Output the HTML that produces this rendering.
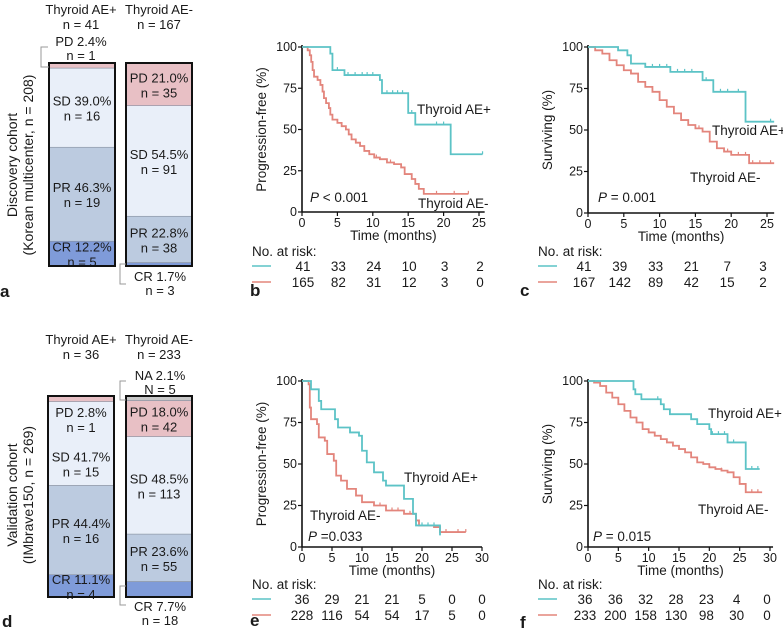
<!DOCTYPE html>
<html><head><meta charset="utf-8"><style>
html,body{margin:0;padding:0;background:#fff;}
svg{display:block;font-family:"Liberation Sans",Arial,sans-serif;}
</style></head><body>
<svg id="fig" width="783" height="633" viewBox="0 0 783 633" xmlns="http://www.w3.org/2000/svg"></svg>
<script>
// ---------- Response bar data (percent, n) from bottom: CR, PR, SD, PD, NA ----------
const respCategories = ["CR","PR","SD","PD","NA"];
const aPlusPct = [12.2,46.3,39.0,2.4,0];   const aPlusN = [5,19,16,1,0];
const aMinusPct = [1.7,22.8,54.5,21.0,0]; const aMinusN = [3,38,91,35,0];
const dPlusPct = [11.1,44.4,41.7,2.8,0];   const dPlusN = [4,16,15,1,0];
const dMinusPct = [7.7,23.6,48.5,18.0,2.1]; const dMinusN = [18,55,113,42,5];

// ---------- KM curves: [time, survival%] step points ----------
const bPlus = [[0,100],[4,96],[4.3,86],[6,83],[11,80],[11.3,72],[15,60],[16,53],[21,35],[25.5,35]];
const bMinus = [[0,100],[0.8,98],[1.1,95],[1.3,91],[1.5,86],[1.7,82],[2.2,80],[2.6,77],[2.9,73],[3.1,69],[3.4,66],[3.8,63],[4.0,59],[4.3,56],[5,54],[5.6,52],[6.2,50],[6.6,47],[7.0,44],[7.6,42],[8.2,40],[8.8,37],[9.5,35],[10.2,33],[11,32],[12,30],[13,29],[14,27],[14.5,23],[15.5,20],[16,17],[16.5,14],[17.2,11],[23.5,11]];
const bPlusCens = [5,6.5,7.5,8.5,9.2,10,12,12.8,13.5,14.2,15.5,19,20,25.5];
const bMinusCens = [10.5,12.5,14,19,21.5,23.5];
const cPlus = [[0,100],[4.2,98],[5.5,95],[6,90],[8,88],[11.5,85],[16,80],[17.5,73],[22,55],[26,55]];
const cMinus = [[0,100],[1,98],[2,96],[3,92],[4,89],[5,86],[6,84],[7,79],[8,76],[9,73],[10,68],[11,64],[12,60],[13,56],[14,53],[15,51],[16,49],[17,43],[18,39],[19,37],[20,35],[22.5,30],[26,30]];
const cPlusCens = [9,10,11,12.5,13.5,14.5,16.5,18.5,19.5,21,25.5];
const cMinusCens = [15.5,18,19.5,21,22,23,24,25.5];
const ePlus = [[0,100],[1.5,95],[2.8,88],[3.2,83],[5.5,77],[6,72],[8,69],[9.5,67],[10,58],[10.8,51],[12,45],[13.5,40],[14,37],[17,29],[18.5,20],[19,13],[23,7],[23,7]];
const eMinus = [[0,100],[1.1,98],[1.3,84],[1.5,77],[2.5,74],[2.8,66],[3.8,64],[4.2,56],[5.3,52],[5.7,43],[6.5,40],[7.5,35],[9,31],[10,27],[12,25],[14,22],[17,20],[19,16],[19.5,13],[22,12],[23,9],[27.3,9]];
const ePlusCens = [8,20,21,22];
const eMinusCens = [13,15,16,18,24,26,27.3];
const fPlus = [[0,100],[7.5,95],[7.8,92],[8.8,89],[12,86],[12.5,83],[13.5,80],[17,77],[18,74],[20,71],[20.3,68],[23,63],[26,47],[28.3,47]];
const fMinus = [[0,100],[1,99],[2,97],[3,93],[4,90],[5,86],[6,82],[7,78],[8,75],[9,71],[10,69],[11,67],[12,65],[13,63],[14,61],[15,59],[16,57],[17,54],[18,51],[19,50],[20,48],[21,47],[22,46],[23,45],[24,42],[25,38],[26,33],[28.7,33]];
const fPlusCens = [11.5,20.5,21.5,22.5,24,27,28];
const fMinusCens = [12,14,20,22,27,28];

// ---------- Risk tables ----------
const bRiskPlus = [41,33,24,10,3,2];  const bRiskMinus = [165,82,31,12,3,0];
const cRiskPlus = [41,39,33,21,7,3];  const cRiskMinus = [167,142,89,42,15,2];
const eRiskPlus = [36,29,21,21,5,0,0]; const eRiskMinus = [228,116,54,54,17,5,0];
const fRiskPlus = [36,36,32,28,23,4,0]; const fRiskMinus = [233,200,158,130,98,30,0];
const yTicks = [0,25,50,75,100];

const NS="http://www.w3.org/2000/svg";
const svg=document.getElementById('fig');
function mk(tag,attrs,parent){const e=document.createElementNS(NS,tag);for(const k in attrs)e.setAttribute(k,attrs[k]);(parent||svg).appendChild(e);return e;}
function txt(x,y,s,size,anchor,parent,extra){const t=mk('text',Object.assign({x:x,y:y,'font-size':size,'text-anchor':anchor||'middle',fill:'#1a1a1a'},extra||{}),parent);t.textContent=s;return t;}

const TEAL='#5cc3c6', RED='#e3857c';
const segColors={CR:'#7f9bd9',PR:'#bccbe0',SD:'#e9eff9',PD:'#e8c0c5',NA:'#c8c8c8'};

// ---------- Bars ----------
function drawBar(x,y0,y1,pcts,ns,name,labels,extraTop){
  const g=mk('g',{});  
  const w=66,h=y1-y0; let cur=y1;
  pcts.forEach((p,i)=>{
    if(p<=0)return;
    const sh=h*p/100; const top=cur-sh;
    const r=mk('rect',{x:x,y:top,width:w,height:sh,fill:segColors[respCategories[i]],stroke:'#8a93a3','stroke-width':0.6},g);
    
    
    if(labels[i]){const cy=top+sh/2+(i===2&&extraTop?20:0);
      txt(x+w/2,cy-2,respCategories[i]+' '+p.toFixed(1)+'%',13,'middle',g);
      txt(x+w/2,cy+13,'n = '+ns[i],13,'middle',g);}
    cur=top;
  });
  if(extraTop){const pi=3; txt(x+w/2,y0+21,'PD '+pcts[pi].toFixed(1)+'%',13,'middle',g); txt(x+w/2,y0+36,'n = '+ns[pi],13,'middle',g);}
  mk('rect',{x:x,y:y0,width:w,height:h,fill:'none',stroke:'#111','stroke-width':2},g);
}
drawBar(49,63,266,aPlusPct,aPlusN,'bar-a-ae-plus',[1,1,1,0,0],false);
drawBar(126,63,266,aMinusPct,aMinusN,'bar-a-ae-minus',[0,1,1,1,0],false);
drawBar(48,396,597,dPlusPct,dPlusN,'bar-d-ae-plus',[1,1,1,0,0],true);
drawBar(126,396,597,dMinusPct,dMinusN,'bar-d-ae-minus',[0,1,1,1,0],false);
function ann(lines,cx,y,poly){txt(cx,y,lines[0],13);txt(cx,y+14,lines[1],13);mk('polyline',{points:poly,fill:'none',stroke:'#999','stroke-width':1});}
ann(['PD 2.4%','n = 1'],81,46,'48,47 41,47 41,67 49,67');
ann(['CR 1.7%','n = 3'],160,281,'126,264 120,264 120,284 126,284');
ann(['NA 2.1%','N = 5'],160,380,'126,381 120,381 120,400 126,400');
ann(['CR 7.7%','n = 18'],160,611,'126,586 120,586 120,605 126,605');
txt(81,14,'Thyroid  AE+',13);txt(81,29,'n = 41',13);
txt(159,14,'Thyroid  AE-',13);txt(159,29,'n = 167',13);
txt(81,344,'Thyroid  AE+',13);txt(81,359,'n = 36',13);
txt(159,344,'Thyroid  AE-',13);txt(159,359,'n = 233',13);
txt(0,0,'Discovery cohort',14,'middle',null,{transform:'translate(17,165) rotate(-90)'});
txt(0,0,'(Korean multicenter, n = 208)',14,'middle',null,{transform:'translate(33,165) rotate(-90)'});
txt(0,0,'Validation cohort',14,'middle',null,{transform:'translate(17,495) rotate(-90)'});
txt(0,0,'(IMbrave150, n = 269)',14,'middle',null,{transform:'translate(33,495) rotate(-90)'});

// ---------- KM plots ----------
function km(cfg){
  const g=mk('g',{});  
  const X=t=>cfg.x0+(t/cfg.xmax)*(cfg.xE-cfg.x0);
  const Y=s=>cfg.y0-(s/100)*(cfg.y0-cfg.y100);
  const xEnd=X(cfg.axisMax);
  mk('line',{x1:cfg.x0,y1:cfg.y0,x2:xEnd,y2:cfg.y0,stroke:'#111','stroke-width':1.6},g);
  mk('line',{x1:cfg.x0,y1:cfg.y0,x2:cfg.x0,y2:cfg.y100-2,stroke:'#111','stroke-width':1.6},g);
  yTicks.forEach(v=>{mk('line',{x1:cfg.x0-4,y1:Y(v),x2:cfg.x0,y2:Y(v),stroke:'#111','stroke-width':1.2},g);txt(cfg.x0-5,Y(v)+4,String(v),12.5,'end',g);});
  cfg.xt.forEach(v=>{mk('line',{x1:X(v),y1:cfg.y0,x2:X(v),y2:cfg.y0+4,stroke:'#111','stroke-width':1.2},g);txt(X(v),cfg.y0+15,String(v),12.5,'middle',g);});
  txt((cfg.x0+xEnd)/2,cfg.y0+28,'Time (months)',13.5,'middle',g);
  txt(0,0,cfg.ytitle,13.5,'middle',g,{transform:'translate('+(cfg.x0-36)+','+((cfg.y0+cfg.y100)/2)+') rotate(-90)'});
  function curve(pts,cens,col,nm){
    let d='M'+X(pts[0][0])+' '+Y(pts[0][1]);
    for(let i=1;i<pts.length;i++){d+=' H'+X(pts[i][0])+' V'+Y(pts[i][1]);}
    const p=mk('path',{d:d,fill:'none',stroke:col,'stroke-width':1.8},g);
    
    
    cens.forEach(t=>{let s=pts[0][1];for(const q of pts){if(q[0]<=t)s=q[1];}
      mk('line',{x1:X(t),y1:Y(s)-3,x2:X(t),y2:Y(s),stroke:col,'stroke-width':1.2},g);});
  }
  curve(cfg.minus,cfg.minusC,RED,cfg.name+'-ae-minus-curve');
  curve(cfg.plus,cfg.plusC,TEAL,cfg.name+'-ae-plus-curve');
  txt(cfg.lp[0],cfg.lp[1],'Thyroid  AE+',13.5,'start',g);
  txt(cfg.lm[0],cfg.lm[1],'Thyroid  AE-',13.5,'start',g);
  const pt=txt(cfg.pp[0],cfg.pp[1],'',13.5,'start',g);
  const ti=document.createElementNS(NS,'tspan');ti.setAttribute('font-style','italic');ti.textContent='P';pt.appendChild(ti);
  const tr=document.createElementNS(NS,'tspan');tr.textContent=cfg.ptxt;pt.appendChild(tr);
  const ry=cfg.riskY;
  txt(cfg.legX,ry,'No. at risk:',13.5,'start',g);
  mk('line',{x1:cfg.legX,y1:ry+10,x2:cfg.legX+19,y2:ry+10,stroke:TEAL,'stroke-width':1.5},g);
  mk('line',{x1:cfg.legX,y1:ry+26,x2:cfg.legX+19,y2:ry+26,stroke:RED,'stroke-width':1.5},g);
  cfg.rp.forEach((v,i)=>txt(X(cfg.xt[i])+cfg.rOff,ry+15,String(v),13.5,'middle',g));
  cfg.rm.forEach((v,i)=>txt(X(cfg.xt[i])+cfg.rOff,ry+31,String(v),13.5,'middle',g));
  txt(cfg.lab[0],cfg.lab[1],cfg.letter,17,'start',g,{'font-weight':'bold'});
}
km({name:'plot-b',x0:302,y0:212,y100:47,xE:479,xmax:25,axisMax:25.8,xt:[0,5,10,15,20,25],ytitle:'Progression-free (%)',
  plus:bPlus,minus:bMinus,plusC:bPlusCens,minusC:bMinusCens,lp:[417,114],lm:[418,208],pp:[310,202],ptxt:' < 0.001',
  riskY:256,legX:252,rp:bRiskPlus,rm:bRiskMinus,rOff:1,lab:[250,296],letter:'b'});
km({name:'plot-c',x0:588,y0:213,y100:47,xE:767,xmax:25,axisMax:26,xt:[0,5,10,15,20,25],ytitle:'Surviving (%)',
  plus:cPlus,minus:cMinus,plusC:cPlusCens,minusC:cMinusCens,lp:[712,135],lm:[690,182],pp:[598,202],ptxt:' = 0.001',
  riskY:256,legX:538,rp:cRiskPlus,rm:cRiskMinus,rOff:-4,lab:[520,296],letter:'c'});
km({name:'plot-e',x0:302,y0:547,y100:381,xE:482,xmax:30,axisMax:30,xt:[0,5,10,15,20,25,30],ytitle:'Progression-free (%)',
  plus:ePlus,minus:eMinus,plusC:ePlusCens,minusC:eMinusCens,lp:[404,482],lm:[310,520],pp:[308,541],ptxt:' =0.033',
  riskY:589,legX:252,rp:eRiskPlus,rm:eRiskMinus,rOff:0,lab:[250,626],letter:'e'});
km({name:'plot-f',x0:588,y0:547,y100:381,xE:770,xmax:30,axisMax:30.5,xt:[0,5,10,15,20,25,30],ytitle:'Surviving (%)',
  plus:fPlus,minus:fMinus,plusC:fPlusCens,minusC:fMinusCens,lp:[708,418],lm:[698,514],pp:[593,541],ptxt:' = 0.015',
  riskY:589,legX:538,rp:fRiskPlus,rm:fRiskMinus,rOff:-3,lab:[520,628],letter:'f'});
txt(0,297,'a',17,'start',null,{'font-weight':'bold'});
txt(2,627,'d',17,'start',null,{'font-weight':'bold'});
</script>
</body></html>
